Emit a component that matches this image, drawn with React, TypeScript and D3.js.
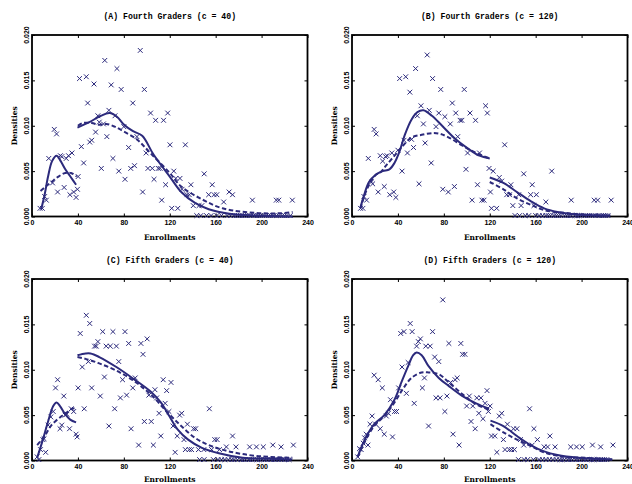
import * as d3 from "d3";
import * as React from "react";

// estimated densities are kept in thousandths (0.005 -> 5)
const xTicks = [0, 40, 80, 120, 160, 200, 240];
const yTicks = [0, 5, 10, 15, 20];

const titles = [
  "(A) Fourth Graders (c = 40)",
  "(B) Fourth Graders (c = 120)",
  "(C) Fifth Graders (c = 40)",
  "(D) Fifth Graders (c = 120)",
];

const pointsA = [
  [7, 0.9], [9, 0.9], [11, 2.2], [12.5, 1.8], [14.6, 6.4], [17.9, 3.7], [19.4, 9.6], [21.4, 9.1], [22.3, 2.7],
  [24.7, 6.7], [26, 6.6], [28, 3.2], [29.8, 6.4], [31.8, 6.7], [33, 2.4], [34.8, 7.0], [36.3, 2.7], [38.4, 2.1],
  [39.6, 3.0], [40.2, 4.4], [41.4, 15.2], [43, 7.7], [45, 5.9], [47.3, 15.4], [48.5, 12.5], [50.3, 8.2], [52, 8.4],
  [54, 14.6], [55.4, 9.3], [57.4, 11.1], [58.6, 10.4], [60.4, 5.3], [62.2, 10.2], [63.4, 17.2], [65.2, 8.8],
  [67, 11.7], [69, 14.5], [70.5, 6.4], [72.3, 11.1], [74, 16.3], [75.6, 5.0], [77.7, 14.0], [80, 9.9], [81, 4.1],
  [84.2, 7.6], [86, 5.3], [87.8, 12.5], [89.3, 5.6], [91.4, 8.8], [94.3, 18.3], [96.4, 2.7], [97.9, 14.0],
  [99.4, 7.0], [101, 5.3], [103.3, 11.4], [104.8, 5.3], [106.3, 4.1], [107.7, 10.6], [110, 5.3], [111.6, 5.3],
  [113, 1.8], [114.6, 10.6], [116.4, 3.5], [118.2, 11.4], [120.2, 7.9], [121.7, 0.9], [123.5, 5.0], [125.3, 4.2],
  [127, 0.9], [128.9, 4.2], [130.7, 3.0], [133.6, 7.9], [135, 2.4], [137, 2.4], [138.4, 3.5], [140.5, 1.2],
  [145.5, 1.2], [148, 1.2], [150, 4.7], [153.9, 2.4], [157, 3.5], [158.6, 2.4], [161, 2.4], [167, 1.6],
  [171.7, 2.7], [174.7, 2.4], [192, 1.8], [212.8, 1.8], [215, 1.8], [226.8, 1.8],
];
const zerosA = [143.5, 147, 152, 156, 161, 165, 170, 173, 176, 178, 180, 182, 184, 186, 188, 190, 193, 195, 197, 199, 201, 204, 206, 208, 210, 213, 215, 218, 220, 222, 225];

const pointsB = [
  [7.4, 0.9], [9.5, 0.9], [10.4, 2.2], [12.7, 1.8], [14.2, 6.4], [16.9, 3.8], [18, 3.6], [19.3, 9.6], [21, 9.1],
  [22.8, 2.7], [24.6, 6.7], [26.7, 6.1], [28.1, 3.3], [29.2, 6.6], [30.5, 6.7], [32.9, 2.4], [34.7, 7.0],
  [36.4, 2.7], [38.2, 2.1], [40, 7.3], [41.5, 15.2], [43.6, 5.0], [45.3, 8.4], [46.8, 15.4], [48.3, 7.0],
  [50.4, 13.7], [51.9, 8.5], [53.6, 7.6], [55.4, 16.3], [56.9, 11.1], [58.4, 3.6], [60.1, 12.2], [62.2, 10.2],
  [63.7, 8.1], [65.5, 17.8], [67.3, 11.7], [69, 5.9], [70.2, 15.2], [73.2, 9.9], [75.6, 11.4], [77.3, 14.0],
  [79.1, 3.0], [80.9, 11.0], [83.9, 2.7], [85.6, 10.2], [87.4, 12.5], [89.2, 3.3], [90.4, 11.4], [92.1, 8.8],
  [94.2, 10.6], [95.7, 10.6], [97.8, 14.0], [99.3, 5.2], [100.7, 7.0], [102.8, 11.4], [104.6, 1.8], [107.6, 10.6],
  [109.3, 3.5], [111.1, 7.0], [113.2, 1.8], [115, 1.8], [116.4, 12.2], [117.9, 11.4], [119.4, 5.3], [120.6, 2.7],
  [121.5, 0.9], [123, 5.0], [126, 0.9], [128.3, 4.3], [130.4, 3.9], [133, 7.9], [134.8, 2.4], [137.2, 2.4],
  [138.4, 3.5], [140.1, 1.2], [145.2, 2.4], [147.3, 1.2], [149.6, 4.7], [155.6, 2.4], [157, 3.5], [158.5, 1.2],
  [160.6, 2.4], [168.9, 1.6], [174, 5.0], [191, 1.8], [211, 1.8], [214, 1.8], [225.8, 1.8],
];
const zerosB = [142, 146, 151, 154, 160, 163, 166, 169, 171, 173, 176, 178, 180, 182, 185, 187, 189, 191, 194, 196, 198, 200, 203, 205, 207, 210, 212, 215, 217, 219, 221, 223];

const pointsC = [
  [4.5, 0.4], [6, 0.1], [7.4, 1.2], [9.5, 2.3], [10.5, 2.4], [11.9, 0.9], [14, 3.9], [16.4, 4.8], [18.5, 5.4],
  [20.5, 8.0], [22.3, 8.9], [24.4, 3.5], [25.9, 3.9], [27.7, 7.1], [28.9, 5.0], [30.4, 5.1], [32.7, 3.5],
  [34.2, 5.7], [36.3, 5.4], [38.4, 2.9], [39.3, 2.6], [40.2, 8.0], [42, 14.0], [43.8, 10.3], [45.5, 5.7],
  [47.3, 16.0], [49.1, 10.9], [50.3, 15.1], [52, 8.0], [54.5, 12.6], [56, 12.6], [57.4, 13.1], [59.5, 7.1],
  [61.6, 14.2], [63.1, 9.2], [64.6, 12.6], [67, 3.8], [68.2, 12.6], [70.5, 14.2], [72, 5.7], [73.5, 12.6],
  [75.6, 10.9], [77, 6.9], [78.9, 8.9], [81, 14.2], [82.4, 7.2], [84.2, 12.9], [86.3, 3.5], [87.8, 8.0],
  [89.9, 9.1], [92.9, 1.7], [94.9, 12.9], [96.7, 11.7], [97.9, 4.3], [100.3, 13.4], [101.8, 7.2], [103.9, 4.3],
  [105.7, 1.7], [107.1, 7.8], [108.6, 6.9], [110.7, 5.2], [112.2, 2.7], [114.3, 8.9], [116, 6.3], [117.3, 7.7],
  [119.3, 5.4], [121.1, 8.6], [122.9, 3.8], [124.7, 0.9], [126.5, 2.7], [128.6, 5.0], [130.4, 5.2], [132.4, 2.3],
  [133.6, 1.2], [135.4, 4.0], [137, 1.2], [139, 1.2], [140.8, 3.5], [142.6, 3.5], [145, 1.2], [149.7, 1.2],
  [154.5, 5.7], [156.5, 1.2], [159.2, 2.3], [161.3, 2.3], [163.4, 1.2], [169.3, 1.5], [174.7, 2.7], [177.7, 1.5],
  [189.6, 1.5], [195.5, 1.5], [201.5, 1.5], [209.8, 1.7], [217, 1.5], [227.7, 1.7],
];
const zerosC = [146, 150, 158, 162, 165, 168, 171, 174, 176, 179, 182, 184, 186, 189, 191, 193, 196, 198, 200, 203, 205, 208, 210, 212, 215, 217, 220, 222, 224];

const pointsD = [
  [5, 0.4], [6.5, 1.3], [8, 1.2], [9.8, 1.9], [11, 2.5], [12.4, 2.9], [13.9, 1.7], [15.7, 4.0], [17.5, 4.9],
  [19.3, 9.4], [20.7, 4.0], [22.8, 8.9], [24.6, 3.5], [26.4, 8.0], [28.1, 2.9], [29.9, 4.9], [31.7, 5.2],
  [33.5, 6.7], [35.3, 2.6], [37, 5.4], [38.8, 5.4], [40.6, 8.0], [42.4, 14.0], [43.6, 10.3], [45.3, 14.2],
  [47.4, 7.4], [48.9, 10.8], [50.7, 15.1], [52.4, 14.2], [54.2, 6.3], [56.3, 12.6], [57.8, 13.1], [59.6, 13.4],
  [61.3, 8.0], [63.1, 9.1], [64.3, 12.6], [66.7, 3.8], [68.1, 12.6], [70.2, 14.2], [72, 11.4], [73.2, 6.9],
  [75.6, 10.9], [76.7, 6.9], [79.1, 17.7], [80.9, 5.4], [82.7, 7.1], [84.4, 12.9], [85.9, 8.6], [88, 2.9],
  [89.8, 8.9], [91.6, 9.1], [93.3, 1.7], [94.8, 12.9], [96.3, 11.7], [98.4, 11.7], [99.9, 6.0], [102.2, 7.1],
  [103.7, 4.3], [105.2, 6.0], [107.3, 3.5], [108.7, 6.9], [110.5, 5.2], [112.3, 6.9], [114.1, 4.6], [115.9, 6.3],
  [117.6, 7.7], [118.8, 5.4], [120.3, 6.0], [121.5, 2.7], [124.4, 2.7], [126.2, 0.9], [128.3, 4.9], [130.4, 5.2],
  [131.9, 2.3], [133.3, 1.2], [135.4, 4.0], [137, 1.2], [139, 1.2], [140.7, 3.5], [141.5, 1.2], [143.7, 3.5],
  [146.7, 2.3], [149.6, 1.7], [154.7, 5.7], [157, 1.7], [158.5, 3.5], [161.5, 2.3], [167.4, 1.5], [170.4, 1.5],
  [172.4, 2.7], [176.9, 1.5], [190.5, 1.5], [195.6, 1.5], [200.6, 1.5], [209.5, 1.7], [216.6, 1.5], [227.3, 1.7],
];
const zerosD = [145, 150, 153, 158, 163, 166, 169, 172, 175, 178, 181, 183, 185, 188, 190, 192, 195, 197, 199, 202, 204, 207, 209, 211, 214, 216, 218, 220, 222];

// fitted densities: solid and dashed, below and above the cutoff
const solidA1 = [[8, 0.8], [11, 2.4], [14, 4.4], [17.5, 6.1], [21.4, 6.7], [25, 6.1], [29, 5.2], [34, 4.3], [38.4, 3.5]];
const dashedA1 = [[7.4, 2.8], [12, 3.3], [17, 3.8], [23, 4.4], [29, 4.8], [34, 4.8], [39, 4.4]];
const solidA2 = [[39.6, 9.8], [50, 10.4], [60, 11.1], [67.6, 11.4], [74, 11.0], [79.5, 10.2], [88, 9.4], [96, 8.9], [106, 6.8], [120, 4.4], [130, 2.7], [142, 1.5], [154, 0.8], [172, 0.3], [195, 0.1], [227, 0.0]];
const dashedA2 = [[40, 10.0], [44, 10.3], [52, 10.3], [58.6, 10.1], [64.6, 10.2], [72, 9.9], [79.5, 9.4], [91.4, 8.5], [103, 7.0], [120, 4.8], [130, 3.3], [148, 1.9], [166, 0.9], [195, 0.4], [215, 0.35], [227, 0.5]];

const solidB1 = [[7.4, 1.0], [10.4, 2.3], [14.8, 3.8], [20.7, 4.6], [26.7, 5.0], [32.6, 5.2], [37, 5.9], [41.5, 7.2], [46, 9.0], [51.9, 10.7], [57, 11.5], [62.2, 11.7], [69.6, 11.1], [78.5, 10.0], [90.4, 8.5], [102, 7.4], [111, 6.7], [120, 6.4]];
const dashedB1 = [[7.4, 0.9], [13.3, 3.1], [20.7, 4.6], [25, 4.9], [29.6, 5.6], [37, 6.7], [43, 7.6], [51.9, 8.7], [60.7, 9.0], [71.1, 9.2], [77, 9.1], [84.4, 8.7], [96.3, 7.8], [108, 7.0], [120, 6.4]];
const solidB2 = [[120, 4.3], [131.9, 3.7], [143.7, 2.7], [155.6, 1.7], [167.4, 0.9], [179, 0.5], [197, 0.2], [225, 0.1]];
const dashedB2 = [[120, 3.8], [131.9, 3.0], [143.7, 2.0], [155.6, 1.3], [167.4, 0.7], [185, 0.4], [203, 0.2], [225, 0.1]];

const solidC1 = [[4.5, 0.3], [9.5, 2.3], [14, 4.3], [18.5, 6.0], [21.4, 6.4], [24.4, 6.0], [28.9, 5.1], [33.3, 4.5], [38.4, 4.2]];
const dashedC1 = [[4.5, 1.7], [11, 2.7], [17, 3.9], [25.9, 4.9], [30.4, 5.3], [34.8, 5.7], [39.3, 5.8]];
const solidC2 = [[39.6, 11.6], [46.7, 11.8], [51, 11.8], [58.6, 11.4], [73.5, 10.3], [88.4, 9.0], [103.3, 7.6], [112.2, 6.4], [119.6, 4.9], [127, 3.4], [136, 2.3], [148, 1.4], [162.8, 0.8], [183.6, 0.3], [207, 0.2], [226.8, 0.1]];
const dashedC2 = [[39.6, 11.4], [46.7, 11.2], [58.6, 10.7], [73.5, 9.9], [88.4, 8.8], [103.3, 7.3], [118, 5.3], [130, 3.8], [142, 2.5], [154, 1.7], [171.7, 1.0], [195.5, 0.5], [226.8, 0.3]];

const solidD1 = [[5, 0.4], [10.4, 2.1], [19.3, 4.0], [28.1, 5.0], [37, 6.7], [43, 8.6], [48.9, 10.4], [53.3, 11.6], [56.3, 11.9], [60.7, 11.6], [66.7, 10.4], [75.6, 9.1], [84.4, 8.2], [96.3, 7.1], [108.1, 6.3], [119.4, 5.7]];
const dashedD1 = [[5, 0.4], [10.4, 1.9], [19.3, 3.8], [28.1, 4.9], [37, 6.4], [44.4, 7.9], [51.9, 9.1], [60.7, 9.7], [66.7, 9.7], [75.6, 9.5], [84.4, 8.6], [96.3, 7.3], [108.1, 6.2], [119.4, 5.6]];
const solidD2 = [[120.6, 4.4], [131.9, 3.8], [143.7, 2.7], [155.6, 1.7], [167.4, 1.0], [179, 0.6], [197, 0.3], [226.7, 0.1]];
const dashedD2 = [[120.6, 4.0], [131.9, 3.1], [143.7, 2.3], [155.6, 1.6], [167.4, 0.9], [185, 0.4], [203, 0.3], [226.7, 0.1]];

const NAVY = "#2c2a7c";

const panels = [
  { left: 32, top: 35, xlab: 240, title: titles[0], points: pointsA, zeros: zerosA, solid: [solidA1, solidA2], dashed: [dashedA1, dashedA2] },
  { left: 352, top: 35, xlab: 240, title: titles[1], points: pointsB, zeros: zerosB, solid: [solidB1, solidB2], dashed: [dashedB1, dashedB2] },
  { left: 32, top: 279, xlab: 481.5, title: titles[2], points: pointsC, zeros: zerosC, solid: [solidC1, solidC2], dashed: [dashedC1, dashedC2] },
  { left: 352, top: 279, xlab: 481.5, title: titles[3], points: pointsD, zeros: zerosD, solid: [solidD1, solidD2], dashed: [dashedD1, dashedD2] },
];

const pw = 275.5;
const ph = 181.5;

export default function App() {
  const ref = React.useRef<SVGSVGElement>(null);

  React.useEffect(() => {
    const svg = d3.select(ref.current);
    svg.selectAll("*").remove();

    panels.forEach(p => {
      const x = d3.scaleLinear().domain([0, 240]).range([p.left, p.left + pw]);
      const y = d3.scaleLinear().domain([0, 20]).range([p.top + ph, p.top]);
      const g = svg.append("g");

      // title
      g.append("text")
        .attr("x", p.left + pw / 2)
        .attr("y", p.top - 16)
        .attr("text-anchor", "middle")
        .attr("font-family", "'Liberation Mono', monospace")
        .attr("font-weight", "bold")
        .attr("font-size", 8.2)
        .text(p.title);

      // axis labels
      g.append("text")
        .attr("transform", `translate(${p.left - 15},${p.top + ph / 2}) rotate(-90)`)
        .attr("text-anchor", "middle")
        .attr("font-family", "'DejaVu Serif', serif")
        .attr("font-weight", "bold")
        .attr("font-size", 7.5)
        .text("Densities");

      g.append("text")
        .attr("x", p.left + pw / 2)
        .attr("y", p.xlab)
        .attr("text-anchor", "middle")
        .attr("font-family", "'DejaVu Serif', serif")
        .attr("font-weight", "bold")
        .attr("font-size", 7.5)
        .text("Enrollments");

      // x axis, ticks pointing inward
      g.append("g")
        .attr("transform", `translate(0,${p.top + ph})`)
        .call(d3.axisBottom(x).tickValues(xTicks).tickSize(-3).tickSizeOuter(0).tickPadding(4))
        .call(a => a.select(".domain").remove())
        .call(a => a.selectAll("text")
          .attr("font-family", "'Liberation Sans', sans-serif")
          .attr("font-weight", "bold")
          .attr("font-size", 7)
          .attr("fill", "#000"));

      g.append("g")
        .attr("transform", `translate(0,${p.top})`)
        .call(d3.axisTop(x).tickValues(xTicks).tickSize(-3).tickSizeOuter(0).tickFormat(() => ""))
        .call(a => a.select(".domain").remove());

      g.append("g")
        .attr("transform", `translate(${p.left},0)`)
        .call(d3.axisLeft(y).tickValues(yTicks).tickSize(-3).tickSizeOuter(0).tickFormat(() => ""))
        .call(a => a.select(".domain").remove());

      g.append("g")
        .attr("transform", `translate(${p.left + pw},0)`)
        .call(d3.axisRight(y).tickValues(yTicks).tickSize(-3).tickSizeOuter(0).tickFormat(() => ""))
        .call(a => a.select(".domain").remove());

      // rotated y tick labels
      g.append("g")
        .selectAll("text")
        .data(yTicks)
        .join("text")
        .attr("transform", d => `translate(${p.left - 2.7},${y(d)}) rotate(-90)`)
        .attr("text-anchor", "middle")
        .attr("font-family", "'Liberation Sans', sans-serif")
        .attr("font-weight", "bold")
        .attr("font-size", 7)
        .text(d => (d / 1000).toFixed(3));

      // frame
      g.append("rect")
        .attr("x", p.left)
        .attr("y", p.top)
        .attr("width", pw)
        .attr("height", ph)
        .attr("fill", "none")
        .attr("stroke", "#000")
        .attr("stroke-width", 1.8);

      // scatter crosses
      const pts = p.points.concat(p.zeros.map(z => [z, 0.1]));
      const s = 2.4;
      g.append("g")
        .selectAll("path")
        .data(pts)
        .join("path")
        .attr("d", d => {
          const cx = x(d[0]), cy = y(d[1]);
          return `M${cx - s},${cy - s}L${cx + s},${cy + s}M${cx - s},${cy + s}L${cx + s},${cy - s}`;
        })
        .attr("stroke", NAVY)
        .attr("stroke-width", 1)
        .attr("fill", "none");

      const line = d3.line<number[]>()
        .x(d => x(d[0]))
        .y(d => y(d[1]))
        .curve(d3.curveCatmullRom.alpha(0.5));

      p.solid.forEach(seg => {
        g.append("path")
          .attr("d", line(seg))
          .attr("fill", "none")
          .attr("stroke", NAVY)
          .attr("stroke-width", 2);
      });
      p.dashed.forEach(seg => {
        g.append("path")
          .attr("d", line(seg))
          .attr("fill", "none")
          .attr("stroke", NAVY)
          .attr("stroke-width", 2)
          .attr("stroke-dasharray", "4.5,2.5");
      });
    });
  }, []);

  return (
    <svg ref={ref} width={632} height={484} style={{ position: "absolute", left: 0, top: 0, background: "#fff" }}></svg>
  );
}
